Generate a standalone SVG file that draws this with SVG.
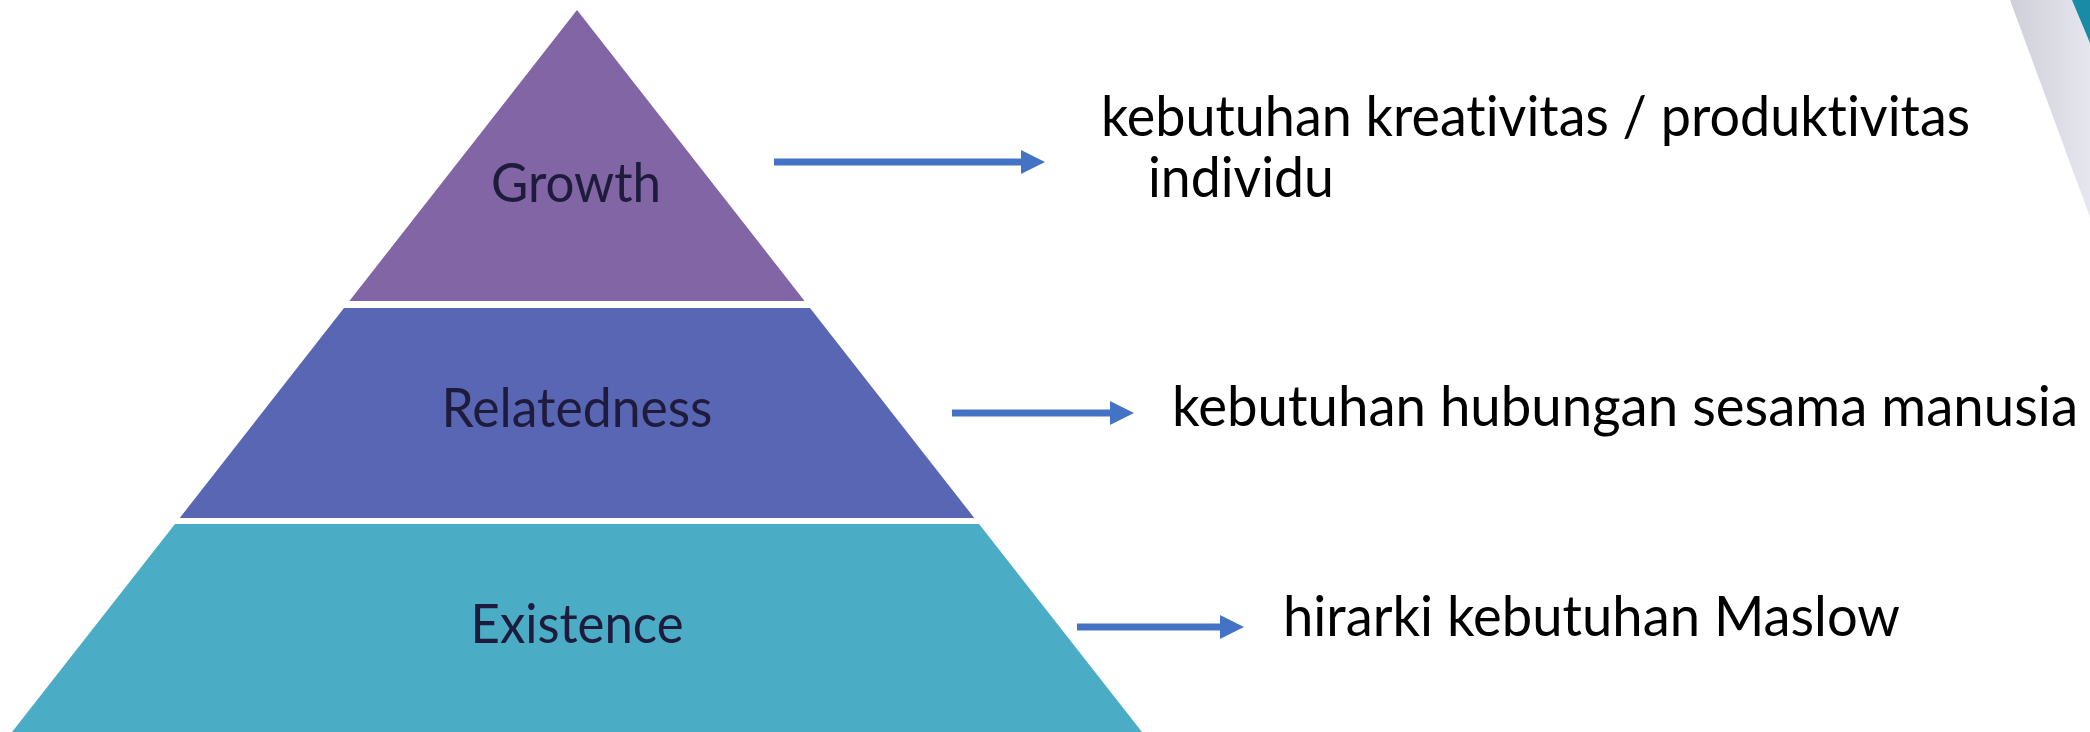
<svg xmlns="http://www.w3.org/2000/svg" width="2090" height="732" viewBox="0 0 2090 732">
<style>
text{font-variant-ligatures:none;font-feature-settings:"liga" 0,"clig" 0}
.lbl{font-family:Lato,"Liberation Sans",sans-serif;font-size:54px;fill:#1e1b3c;text-anchor:middle}
.desc{font-family:Lato,"Liberation Sans",sans-serif;font-size:57px;fill:#000}
.conn{stroke:#4472C4;stroke-width:7;fill:none}
</style>
<defs>
<marker id="ah" markerUnits="userSpaceOnUse" markerWidth="24" markerHeight="24" refX="0" refY="12" orient="auto">
<path d="M0,0 L24,12 L0,24 Z" fill="#4472C4"/>
</marker>
<linearGradient id="gr" x1="0" y1="0" x2="1" y2="0">
<stop offset="0" stop-color="#cfcfd9"/>
<stop offset="1" stop-color="#e6e6ee"/>
</linearGradient>
</defs>
<rect width="2090" height="732" fill="#ffffff"/>
<g id="decor">
<polygon points="2010,0 2090,0 2090,217" fill="url(#gr)"/>
<polygon points="2072,0 2090,0 2090,43" fill="#1a8ba7"/>
</g>
<g id="growth">
<polygon points="577,10 804.6,301 349.4,301" fill="#8165a4"/>
<text class="lbl" x="576" y="202" textLength="170" lengthAdjust="spacingAndGlyphs">Growth</text>
</g>
<g id="relatedness">
<polygon points="344,308 810,308 974.3,518 179.7,518" fill="#5966b3"/>
<text class="lbl" x="577" y="427" textLength="271" lengthAdjust="spacingAndGlyphs">Relatedness</text>
</g>
<g id="existence">
<polygon points="175,524 979,524 1142,732 12,732" fill="#4bacc6"/>
<text class="lbl" x="577" y="643" textLength="213" lengthAdjust="spacingAndGlyphs">Existence</text>
</g>
<g id="connectors">
<line class="conn" x1="774" y1="162" x2="1021" y2="162" marker-end="url(#ah)"/>
<line class="conn" x1="952" y1="413" x2="1110" y2="413" marker-end="url(#ah)"/>
<line class="conn" x1="1077" y1="627" x2="1220" y2="627" marker-end="url(#ah)"/>
</g>
<g id="desc-growth">
<text class="desc" x="1101" y="136" textLength="869" lengthAdjust="spacingAndGlyphs">kebutuhan kreativitas / produktivitas</text>
<text class="desc" x="1148" y="197" textLength="186" lengthAdjust="spacingAndGlyphs">individu</text>
</g>
<g id="desc-relatedness">
<text class="desc" x="1172" y="426" textLength="906" lengthAdjust="spacingAndGlyphs">kebutuhan hubungan sesama manusia</text>
</g>
<g id="desc-existence">
<text class="desc" x="1283" y="636" textLength="617" lengthAdjust="spacingAndGlyphs">hirarki kebutuhan Maslow</text>
</g>
</svg>
